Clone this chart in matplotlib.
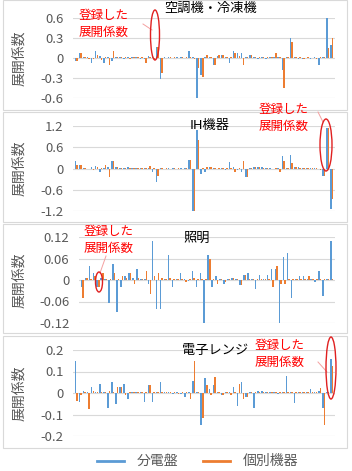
import matplotlib
matplotlib.use('Agg')
import matplotlib.pyplot as plt
from matplotlib.patches import Ellipse, Rectangle
import numpy as np

plt.rcParams['font.family'] = ['Noto Sans CJK JP', 'DejaVu Sans']

# 係数の番号 (0..63)
n_coef = 64
idx = np.arange(n_coef)

# 空調機・冷凍機
aircon_panel = [-0.05, 0.08, 0.02, 0.01, -0.08, 0.10, 0.03, -0.07, 0.02, -0.05,
                0.02, 0.01, -0.01, 0.02, 0.01, 0.02, -0.01, -0.02, 0.03, 0.02,
                0.17, -0.32, 0.01, 0.01, 0.0, 0.01, 0.01, 0.0, 0.10, 0.02,
                -0.60, -0.25, 0.01, 0.02, -0.10, 0.03, 0.05, 0.01, -0.08, 0.10,
                0.08, 0.07, 0.02, 0.05, 0.01, -0.01, 0.02, -0.02, 0.01, 0.02,
                0.01, -0.18, 0.01, 0.30, 0.02, -0.01, -0.02, 0.0, -0.01, 0.01,
                -0.10, 0.01, 0.60, 0.20]
aircon_device = [-0.05, 0.08, 0.01, -0.02, -0.02, 0.05, -0.03, 0.02, -0.10, 0.10,
                 0.01, 0.02, 0.01, -0.01, 0.02, 0.01, 0.01, -0.07, 0.02, -0.02,
                 0.17, -0.22, 0.0, 0.01, 0.01, 0.0, 0.01, 0.01, 0.01, -0.02,
                 -0.15, -0.28, 0.05, 0.01, -0.10, 0.05, 0.05, 0.01, 0.01, 0.07,
                 0.03, -0.10, 0.01, 0.05, 0.01, 0.02, 0.01, 0.01, 0.01, 0.07,
                 0.02, -0.45, 0.01, 0.24, 0.01, 0.01, -0.01, 0.01, 0.0, -0.01,
                 0.01, 0.01, 0.15, 0.30]

# IH機器
ih_panel = [0.20, 0.10, 0.02, -0.02, 0.05, 0.07, -0.10, 0.02, 0.05, 0.22,
            0.03, 0.02, 0.01, 0.03, 0.01, 0.01, 0.02, 0.01, 0.02, -0.10,
            -0.38, 0.01, 0.0, 0.01, 0.01, 0.0, 0.01, 0.01, 0.25, -1.20,
            1.10, -0.15, -0.10, 0.05, 0.02, -0.02, 0.01, -0.05, 0.18, 0.03,
            -0.03, -0.10, -0.25, 0.02, 0.03, 0.05, 0.03, 0.02, 0.01, -0.02,
            0.01, 0.35, 0.01, 0.38, 0.05, 0.03, 0.02, 0.01, 0.02, 0.01,
            -0.02, -0.20, 1.15, -1.15]
ih_device = [0.10, 0.10, 0.01, -0.01, -0.03, 0.05, 0.02, 0.10, -0.25, 0.22,
             0.03, 0.01, 0.02, 0.01, 0.01, 0.02, 0.01, 0.01, 0.07, 0.02,
             -0.20, 0.01, 0.01, 0.0, 0.01, 0.01, 0.0, 0.01, 0.25, -1.20,
             0.80, 0.02, 0.05, 0.03, 0.01, 0.02, 0.01, 0.01, 0.02, -0.10,
             0.01, 0.20, -0.25, 0.02, 0.03, 0.04, 0.02, 0.01, -0.02, 0.01,
             -0.10, 0.20, 0.01, 0.15, 0.03, 0.02, 0.01, 0.01, 0.01, 0.01,
             -0.03, -0.22, 1.15, -0.85]

# 照明
light_panel = [-0.02, 0.005, 0.04, 0.02, -0.02, 0.005, 0.003, -0.065, 0.045, -0.09,
               -0.02, 0.01, 0.02, 0.005, 0.03, 0.002, 0.002, -0.01, 0.11, -0.08,
               -0.08, 0.003, 0.07, -0.02, 0.003, 0.02, 0.002, -0.003, 0.025, -0.02,
               0.02, -0.12, 0.07, -0.02, 0.01, 0.004, -0.01, 0.003, 0.005, 0.003,
               -0.015, 0.015, 0.02, 0.003, -0.025, 0.015, 0.003, 0.015, 0.03, 0.03,
               -0.12, 0.065, 0.075, -0.05, 0.002, 0.01, 0.01, 0.003, 0.003, -0.005,
               0.025, -0.045, 0.003, 0.11]
light_device = [-0.05, 0.005, 0.002, 0.01, -0.02, 0.02, 0.003, 0.003, 0.02, 0.002,
                0.01, 0.005, 0.02, -0.01, 0.005, 0.002, 0.025, -0.04, 0.01, 0.02,
                0.005, 0.002, 0.005, 0.002, 0.003, 0.003, -0.005, 0.003, 0.005, 0.002,
                0.003, 0.002, 0.06, 0.003, -0.01, 0.003, -0.005, 0.002, 0.005, 0.002,
                -0.015, 0.015, 0.003, 0.002, 0.003, 0.002, 0.003, 0.002, -0.02, 0.04,
                -0.01, -0.01, 0.003, 0.002, 0.003, 0.002, 0.003, 0.01, 0.003, 0.002,
                0.003, 0.002, 0.003, 0.003]

# 電子レンジ
micro_panel = [0.15, -0.04, 0.01, 0.005, 0.03, 0.005, 0.04, 0.005, -0.07, 0.05,
               -0.05, 0.03, 0.04, -0.03, 0.005, 0.003, 0.005, -0.04, 0.035, -0.04,
               0.005, 0.05, 0.003, 0.003, -0.005, 0.003, -0.005, -0.02, 0.005, 0.055,
               0.003, -0.15, 0.07, 0.02, 0.035, 0.005, -0.01, 0.003, 0.005, 0.03,
               -0.06, 0.05, -0.02, 0.005, -0.07, 0.01, 0.01, 0.003, 0.005, 0.003,
               -0.005, 0.003, 0.08, 0.003, -0.045, 0.003, 0.003, 0.005, 0.02, 0.005,
               0.01, -0.07, 0.005, 0.16]
micro_device = [-0.035, -0.01, 0.005, -0.075, 0.01, 0.005, 0.003, 0.003, 0.01, 0.005,
                0.03, 0.03, -0.01, 0.003, 0.005, 0.005, 0.003, 0.003, 0.035, 0.003,
                0.003, 0.003, 0.003, 0.003, 0.003, -0.005, 0.003, 0.003, -0.03, 0.15,
                0.003, -0.115, 0.035, -0.01, 0.075, 0.003, -0.01, 0.003, -0.01, 0.003,
                0.04, -0.03, -0.02, 0.003, 0.003, 0.003, 0.003, 0.003, 0.003, 0.003,
                0.003, 0.003, 0.003, 0.003, 0.003, 0.003, 0.003, 0.003, 0.003, 0.003,
                0.025, -0.15, 0.003, 0.125]

titles = ['空調機・冷凍機', 'IH機器', '照明', '電子レンジ']
panel_vals = [aircon_panel, ih_panel, light_panel, micro_panel]
device_vals = [aircon_device, ih_device, light_device, micro_device]
ytick_vals = [[-0.6, -0.3, 0, 0.3, 0.6], [-1.2, -0.6, 0, 0.6, 1.2],
              [-0.12, -0.06, 0, 0.06, 0.12], [-0.2, -0.1, 0, 0.1, 0.2]]
ytick_labels = [['-0.6', '-0.3', '0', '0.3', '0.6'], ['-1.2', '-0.6', '0', '0.6', '1.2'],
                ['-0.12', '-0.06', '0', '0.06', '0.12'], ['-0.2', '-0.1', '0', '0.1', '0.2']]

W, H = 352, 471
blue, orange = '#5B9BD5', '#ED7D31'
gray_txt = '#595959'

def fx(x): return x / W
def fy(y): return 1 - y / H

fig = plt.figure(figsize=(W / 100, H / 100), dpi=100)

# 枠 (x0, y0, x1, y1) と描画領域 (left, top, right, bottom) を画素で
boxes = [(3, 0, 347, 110), (3, 112, 347, 222), (3, 224, 347, 333), (3, 336, 347, 448)]
areas = [(73, 18, 335, 98), (73, 126, 335, 211), (79, 237, 335, 323), (73, 350, 335, 436)]
title_pos = [(211, 8), (210, 126), (197, 238), (215, 350)]

for i in range(4):
    x0, y0, x1, y1 = boxes[i]
    fig.patches.append(Rectangle((fx(x0), fy(y1)), (x1 - x0) / W, (y1 - y0) / H,
                                 transform=fig.transFigure, fill=False,
                                 edgecolor='#D9D9D9', lw=0.8))
    l, t, r, b = areas[i]
    ax = fig.add_axes([fx(l), fy(b), (r - l) / W, (b - t) / H])
    ax.bar(idx - 0.2, panel_vals[i], width=0.38, color=blue, zorder=2)
    ax.bar(idx + 0.2, device_vals[i], width=0.38, color=orange, zorder=2)
    ax.set_xlim(-0.8, n_coef - 0.2)
    ax.set_ylim(ytick_vals[i][0], ytick_vals[i][-1])
    ax.set_yticks(ytick_vals[i])
    ax.set_yticklabels(ytick_labels[i], fontsize=9.5, color=gray_txt)
    ax.set_xticks([])
    ax.tick_params(axis='y', length=0, pad=7)
    ax.grid(axis='y', color='#D9D9D9', lw=0.8, zorder=0)
    for s in ax.spines.values():
        s.set_visible(False)
    ax.set_ylabel('展開係数', fontsize=10, color=gray_txt)
    ax.yaxis.set_label_coords(-(l - 26) / (r - l), 0.5)
    fig.text(fx(title_pos[i][0]), fy(title_pos[i][1]), titles[i], fontsize=9.5,
             ha='center', va='center', color='black')

# 登録した展開係数 の注記
notes = [
    # text (x, y), ellipse center (x, y), ellipse w, h, line from, line to
    ((104, 24), (155, 35), 9, 50, (143, 24), (152, 30)),
    ((284, 118), (326, 145), 12, 52, (318, 112), (323, 122)),
    ((109, 240), (99, 282), 7, 20, (106, 256), (100, 273)),
    ((280, 354), (331, 368), 10, 62, (318, 362), (327, 372)),
]
for (tx, ty), (ex, ey), ew, eh, (lx0, ly0), (lx1, ly1) in notes:
    fig.text(fx(tx), fy(ty), '登録した\n展開係数', fontsize=9, color='#FF0000',
             ha='center', va='center', linespacing=1.35)
    fig.patches.append(Ellipse((fx(ex), fy(ey)), ew / W, eh / H, transform=fig.transFigure,
                               fill=False, edgecolor='#E02020', lw=1.0, zorder=5))
    fig.lines.append(plt.Line2D([fx(lx0), fx(lx1)], [fy(ly0), fy(ly1)],
                                transform=fig.transFigure, color='#F4A0A0', lw=0.7))

# 凡例
fig.lines.append(plt.Line2D([fx(97), fx(124)], [fy(461), fy(461)], transform=fig.transFigure,
                            color=blue, lw=2))
fig.text(fx(137), fy(461), '分電盤', fontsize=10, color=gray_txt, va='center', ha='left')
fig.lines.append(plt.Line2D([fx(203), fx(230)], [fy(461), fy(461)], transform=fig.transFigure,
                            color=orange, lw=2))
fig.text(fx(243), fy(461), '個別機器', fontsize=10, color=gray_txt, va='center', ha='left')

fig.savefig('out.png', dpi=100)
